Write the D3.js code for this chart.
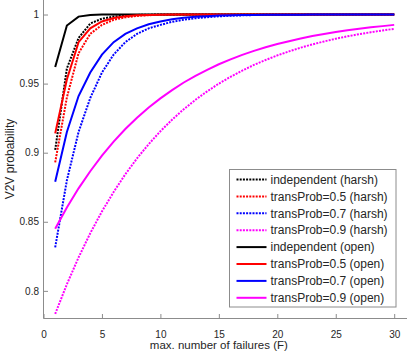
<!DOCTYPE html>
<html>
<head>
<meta charset="utf-8">
<script src="https://cdn.jsdelivr.net/npm/d3@7"></script>
<style>
  body { margin: 0; background: #fff; }
  svg { font-family: "Liberation Sans", Arial, Helvetica, sans-serif; }
</style>
</head>
<body>
<svg id="chart" width="407" height="354"></svg>
<script>
var failures = [1, 2, 3, 4, 5, 6, 7, 8, 9, 10, 11, 12, 13, 14, 15,
                16, 17, 18, 19, 20, 21, 22, 23, 24, 25, 26, 27, 28, 29, 30];

var indepHarsh = [0.902, 0.961, 0.983, 0.9935, 0.997, 0.9985, 0.9993, 0.9997, 0.9999, 1,
                  1, 1, 1, 1, 1, 1, 1, 1, 1, 1, 1, 1, 1, 1, 1, 1, 1, 1, 1, 1];
var p05Harsh = [0.893, 0.940, 0.972, 0.986, 0.9925, 0.9962, 0.998, 0.999, 0.9995, 0.9998,
                0.9999, 1, 1, 1, 1, 1, 1, 1, 1, 1, 1, 1, 1, 1, 1, 1, 1, 1, 1, 1];
var p07Harsh = [0.8315, 0.880, 0.915, 0.9396, 0.958, 0.971, 0.980, 0.986, 0.990, 0.9925,
                0.9947, 0.9962, 0.9973, 0.9981, 0.9987, 0.9991, 0.9994, 0.9996, 0.9997, 0.9998,
                0.9999, 0.9999, 1, 1, 1, 1, 1, 1, 1, 1];
var p09Harsh = [0.7833, 0.8048, 0.8242, 0.8417, 0.8575, 0.8716, 0.8844, 0.8959, 0.9062, 0.9155,
                0.9239, 0.9315, 0.9383, 0.9444, 0.9500, 0.9549, 0.9594, 0.9635, 0.9671, 0.9704,
                0.9733, 0.9760, 0.9784, 0.9805, 0.9825, 0.9842, 0.9858, 0.9872, 0.9885, 0.9896];
var indepOpen = [0.962, 0.992, 0.9985, 0.9997, 0.99995, 1, 1, 1, 1, 1,
                 1, 1, 1, 1, 1, 1, 1, 1, 1, 1, 1, 1, 1, 1, 1, 1, 1, 1, 1, 1];
var p05Open = [0.914, 0.953, 0.980, 0.990, 0.995, 0.9975, 0.9988, 0.9994, 0.9997, 0.9999,
               1, 1, 1, 1, 1, 1, 1, 1, 1, 1, 1, 1, 1, 1, 1, 1, 1, 1, 1, 1];
var p07Open = [0.879, 0.915, 0.941, 0.958, 0.971, 0.980, 0.986, 0.990, 0.993, 0.995,
               0.9966, 0.9976, 0.9983, 0.9988, 0.9992, 0.9994, 0.9996, 0.9997, 0.9998, 0.9999,
               0.9999, 0.9999, 1, 1, 1, 1, 1, 1, 1, 1];
var p09Open = [0.845, 0.8603, 0.8742, 0.8866, 0.8979, 0.9080, 0.9171, 0.9253, 0.9327, 0.9393,
               0.9453, 0.9508, 0.9556, 0.9600, 0.9640, 0.9675, 0.9708, 0.9737, 0.9763, 0.9786,
               0.9807, 0.9826, 0.9844, 0.9859, 0.9873, 0.9886, 0.9897, 0.9907, 0.9916, 0.9925];

var seriesNames = ["independent (harsh)", "transProb=0.5 (harsh)", "transProb=0.7 (harsh)", "transProb=0.9 (harsh)",
                   "independent (open)", "transProb=0.5 (open)", "transProb=0.7 (open)", "transProb=0.9 (open)"];
var seriesValues = [indepHarsh, p05Harsh, p07Harsh, p09Harsh, indepOpen, p05Open, p07Open, p09Open];
var seriesColors = ["#000000", "#ff0000", "#0000ff", "#ff00ff", "#000000", "#ff0000", "#0000ff", "#ff00ff"];
var seriesDotted = [true, true, true, true, false, false, false, false];

var xTicks = [0, 5, 10, 15, 20, 25, 30];
var yTicks = [0.8, 0.85, 0.9, 0.95, 1];

var svg = d3.select("#chart");
var margin = {left: 43.5, right: 12.8, top: 0.7, bottom: 35.5};
var width = 407 - margin.left - margin.right,
    height = 354 - margin.top - margin.bottom;

var x = d3.scaleLinear().domain([0, 30]).range([margin.left, margin.left + width]);
var y = d3.scaleLinear().domain([0.78, 1.01]).range([margin.top + height, margin.top]);

var axisColor = "#8c8c8c",
    textColor = "#262626";

// axes (MATLAB style: ticks pointing inward, no box)
var xAxis = svg.append("g")
    .attr("transform", "translate(0," + (margin.top + height) + ")")
    .call(d3.axisBottom(x).tickValues(xTicks).tickSize(-4.5).tickPadding(12).tickFormat(d3.format("d")));
xAxis.select(".domain").attr("stroke", axisColor).attr("d", "M" + margin.left + ",0H407");

var yAxis = svg.append("g")
    .attr("transform", "translate(" + margin.left + ",0)")
    .call(d3.axisLeft(y).tickValues(yTicks).tickSize(-4.5).tickPadding(4.5)
          .tickFormat(function(d) { return d === 1 ? "1" : d3.format("")(d); }));
yAxis.select(".domain").attr("stroke", axisColor)
    .attr("d", "M0," + (margin.top + height) + "V0");

svg.selectAll(".tick line").attr("stroke", axisColor);
svg.selectAll(".tick text").attr("fill", textColor).attr("font-size", "10px")
    .attr("font-family", "Liberation Sans, Arial, sans-serif");

svg.append("text")
    .attr("x", x(15))
    .attr("y", 349)
    .attr("text-anchor", "middle")
    .attr("font-size", "11.5px")
    .attr("fill", textColor)
    .text("max. number of failures (F)");

svg.append("text")
    .attr("transform", "translate(14,159) rotate(-90)")
    .attr("text-anchor", "middle")
    .attr("font-size", "12px")
    .attr("fill", textColor)
    .text("V2V probability");

var line = d3.line()
    .x(function(d, i) { return x(failures[i]); })
    .y(function(d) { return y(d); });

svg.append("g")
    .selectAll("path")
    .data(seriesValues)
    .enter().append("path")
    .attr("fill", "none")
    .attr("stroke", function(d, i) { return seriesColors[i]; })
    .attr("stroke-width", 2)
    .attr("stroke-dasharray", function(d, i) { return seriesDotted[i] ? "2,1.2" : null; })
    .attr("d", line);

// legend
var legend = svg.append("g").attr("transform", "translate(229.5,169.5)");
legend.append("rect")
    .attr("width", 166.5)
    .attr("height", 137.5)
    .attr("fill", "#fff")
    .attr("stroke", axisColor);

var rows = legend.selectAll(".row")
    .data(seriesNames)
    .enter().append("g")
    .attr("class", "row")
    .attr("transform", function(d, i) { return "translate(0," + (10 + i * 16.9) + ")"; });

rows.append("line")
    .attr("x1", 7)
    .attr("x2", 37)
    .attr("stroke", function(d, i) { return seriesColors[i]; })
    .attr("stroke-width", 2)
    .attr("stroke-dasharray", function(d, i) { return seriesDotted[i] ? "2,1.2" : null; });

rows.append("text")
    .attr("x", 41)
    .attr("dy", "0.35em")
    .attr("font-size", "12px")
    .attr("fill", textColor)
    .text(function(d) { return d; });
</script>
</body>
</html>
